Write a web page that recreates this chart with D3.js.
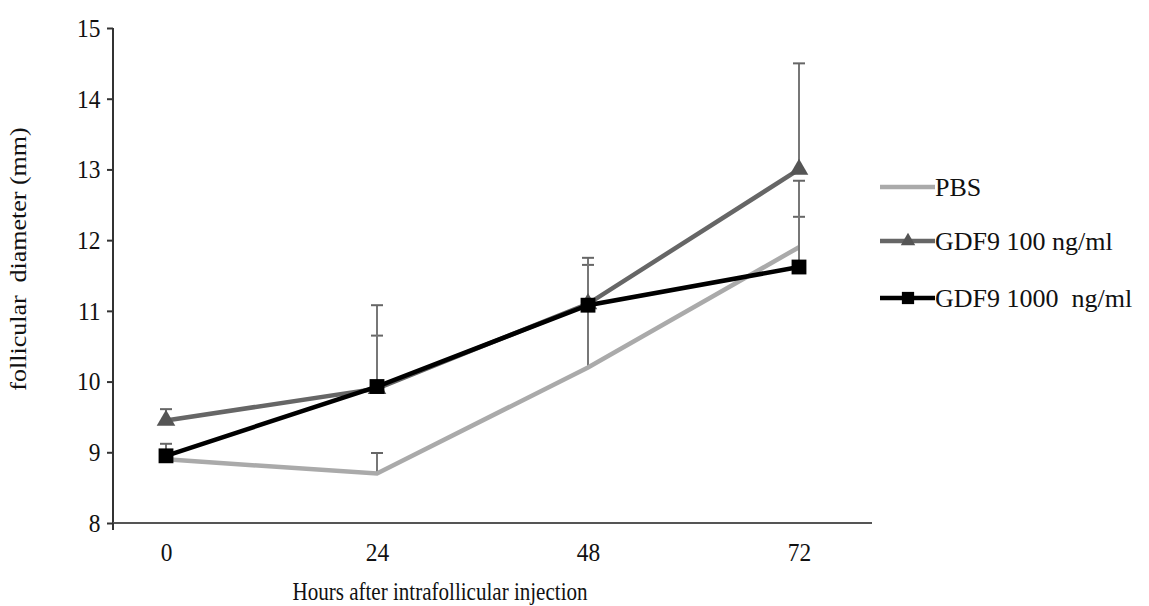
<!DOCTYPE html>
<html>
<head>
<meta charset="utf-8">
<script src="https://cdn.jsdelivr.net/npm/d3@7"></script>
<style>
  body { margin: 0; background: #fff; }
  text { font-family: "Liberation Serif", "Times New Roman", serif; fill: #111; }
</style>
</head>
<body>
<svg id="chart"></svg>
<script>
// hours after injection
const hours = [0, 24, 48, 72];
const yTicks = [8, 9, 10, 11, 12, 13, 14, 15];

// follicular diameter means (mm) and upper error values
const pbs = [8.9, 8.7, 10.2, 11.9];
const pbsErr = [0, 0.29, 1.45, 0.43];
const gdf100 = [9.45, 9.9, 11.1, 13.0];
const gdf100Err = [0.16, 0.75, 0.65, 1.5];
const gdf1000 = [8.95, 9.93, 11.08, 11.62];
const gdf1000Err = [0.17, 1.15, 0, 1.22];

const series = [
  { name: 'PBS', values: pbs, err: pbsErr, color: '#aaaaaa', marker: null },
  { name: 'GDF9 100 ng/ml', values: gdf100, err: gdf100Err, color: '#666666', marker: 'triangle' },
  { name: 'GDF9 1000  ng/ml', values: gdf1000, err: gdf1000Err, color: '#000000', marker: 'square' }
];

const width = 1149, height = 606;
const svg = d3.select('#chart').attr('width', width).attr('height', height);

const x = d3.scaleLinear().domain([0, 72]).range([166, 799]);
const y = d3.scaleLinear().domain([8, 15]).range([523, 28]);
const axisLeft = 113, axisRight = 872;

// y axis
const yAxis = svg.append('g')
  .attr('transform', `translate(${axisLeft},0)`)
  .call(d3.axisLeft(y).tickValues(yTicks).tickSize(6).tickPadding(8).tickFormat(d3.format('d')));
yAxis.select('.domain').attr('stroke', '#333').attr('stroke-width', 2).attr('d', `M0,${y(15)}V${y(8)}`);
yAxis.selectAll('.tick line').attr('stroke', '#333').attr('stroke-width', 2);
yAxis.selectAll('.tick text').style('font-size', '26px').style('font-family', '"Liberation Serif", serif')
  .attr('fill', '#111').attr('transform', 'scale(0.9,1)');

// x axis
const xAxis = svg.append('g')
  .attr('transform', `translate(0,${y(8)})`)
  .call(d3.axisBottom(x).tickValues(hours).tickSize(0).tickPadding(20));
xAxis.select('.domain').attr('stroke', '#555').attr('stroke-width', 2).attr('d', `M${axisLeft},0H${axisRight}`);
xAxis.selectAll('.tick text').style('font-size', '26px').style('font-family', '"Liberation Serif", serif')
  .attr('fill', '#111').attr('transform', 'scale(0.9,1)');
xAxis.append('line').attr('x1', axisLeft).attr('x2', axisLeft).attr('y1', 0).attr('y2', 7)
  .attr('stroke', '#333').attr('stroke-width', 2);

// titles
svg.append('text')
  .attr('transform', 'translate(440,600) scale(0.81,1)')
  .attr('text-anchor', 'middle').style('font-size', '26px')
  .text('Hours after intrafollicular injection');
svg.append('text')
  .attr('transform', `translate(26,259) rotate(-90) scale(1,0.85)`)
  .attr('text-anchor', 'middle').style('font-size', '26px')
  .style('white-space', 'pre')
  .text('follicular  diameter (mm)');

const line = d3.line().x((d, i) => x(hours[i])).y(d => y(d));
const tri = d3.symbol().type(d3.symbolTriangle);
const sq = d3.symbol().type(d3.symbolSquare);

series.forEach(s => {
  const g = svg.append('g');
  // error bars (upper only)
  s.values.forEach((v, i) => {
    if (!s.err[i]) return;
    const cx = x(hours[i]), top = y(v + s.err[i]);
    g.append('line').attr('x1', cx).attr('x2', cx).attr('y1', y(v)).attr('y2', top)
      .attr('stroke', '#777').attr('stroke-width', 2);
    g.append('line').attr('x1', cx - 6).attr('x2', cx + 6).attr('y1', top).attr('y2', top)
      .attr('stroke', '#666').attr('stroke-width', 2);
  });
  g.append('path').datum(s.values).attr('d', line)
    .attr('fill', 'none').attr('stroke', s.color).attr('stroke-width', 4.5);
  if (s.marker) {
    g.selectAll('.m').data(s.values).enter().append('path')
      .attr('transform', (d, i) => `translate(${x(hours[i])},${y(d)})`)
      .attr('d', s.marker === 'triangle' ? tri.size(150)() : sq.size(220)())
      .attr('fill', s.marker === 'triangle' ? '#555' : '#000');
  }
});

// legend
const legendY = [187, 241, 298];
const leg = svg.append('g');
series.forEach((s, i) => {
  const ly = legendY[i];
  leg.append('line').attr('x1', 880).attr('x2', 935).attr('y1', ly).attr('y2', ly)
    .attr('stroke', s.color).attr('stroke-width', 4.5);
  if (s.marker) {
    leg.append('path').attr('transform', `translate(908,${ly})`)
      .attr('d', s.marker === 'triangle' ? tri.size(90)() : sq.size(150)())
      .attr('fill', s.marker === 'triangle' ? '#555' : '#000');
  }
  leg.append('text').attr('x', 935).attr('y', ly + 9)
    .style('font-size', '26px').style('white-space', 'pre').text(s.name);
});
</script>
</body>
</html>
